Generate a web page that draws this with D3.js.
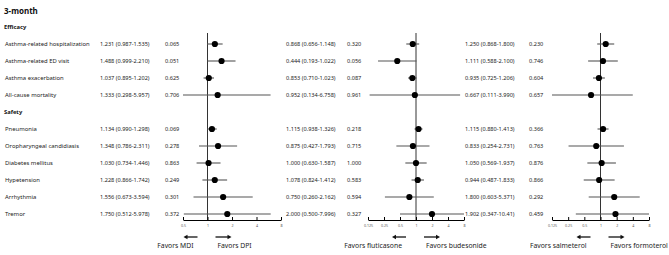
<!DOCTYPE html>
<html><head><meta charset="utf-8">
<script src="https://cdn.jsdelivr.net/npm/d3@7"></script>
<style>body{margin:0;background:#fff}svg{display:block;font-family:"Noto Sans",sans-serif}</style>
</head><body><svg id="c" width="669" height="255"></svg>
<script>
const title = "3-month";
const groups = ["Efficacy", "Safety"];
const outcomes = ["Asthma-related hospitalization","Asthma-related ED visit","Asthma exacerbation","All-cause mortality",
  "Pneumonia","Oropharyngeal candidiasis","Diabetes mellitus","Hypetension","Arrhythmia","Tremor"];
const outcomeGroup = ["Efficacy","Efficacy","Efficacy","Efficacy","Safety","Safety","Safety","Safety","Safety","Safety"];

// MDI vs DPI
const or1 = [1.231,1.488,1.037,1.333,1.134,1.348,1.030,1.228,1.556,1.750];
const lo1 = [0.987,0.999,0.895,0.298,0.990,0.786,0.734,0.866,0.673,0.512];
const hi1 = [1.535,2.210,1.202,5.957,1.298,2.311,1.446,1.742,3.594,5.978];
const ci1 = ["1.231 (0.987-1.535)","1.488 (0.999-2.210)","1.037 (0.895-1.202)","1.333 (0.298-5.957)","1.134 (0.990-1.298)","1.348 (0.786-2.311)","1.030 (0.734-1.446)","1.228 (0.866-1.742)","1.556 (0.673-3.594)","1.750 (0.512-5.978)"];
const p1 = ["0.065","0.051","0.625","0.706","0.069","0.278","0.863","0.249","0.301","0.372"];

// fluticasone vs budesonide
const or2 = [0.868,0.444,0.853,0.952,1.115,0.875,1.000,1.078,0.750,2.000];
const lo2 = [0.656,0.193,0.710,0.134,0.938,0.427,0.630,0.824,0.260,0.500];
const hi2 = [1.148,1.022,1.023,6.758,1.326,1.793,1.587,1.412,2.162,7.996];
const ci2 = ["0.868 (0.656-1.148)","0.444 (0.193-1.022)","0.853 (0.710-1.023)","0.952 (0.134-6.758)","1.115 (0.938-1.326)","0.875 (0.427-1.793)","1.000 (0.630-1.587)","1.078 (0.824-1.412)","0.750 (0.260-2.162)","2.000 (0.500-7.996)"];
const p2 = ["0.320","0.056","0.087","0.961","0.218","0.715","1.000","0.583","0.594","0.327"];

// salmeterol vs formoterol
const or3 = [1.250,1.111,0.935,0.667,1.115,0.833,1.050,0.944,1.800,1.902];
const lo3 = [0.868,0.588,0.725,0.111,0.880,0.254,0.569,0.487,0.603,0.347];
const hi3 = [1.800,2.100,1.206,3.990,1.413,2.731,1.937,1.833,5.371,10.41];
const ci3 = ["1.250 (0.868-1.800)","1.111 (0.588-2.100)","0.935 (0.725-1.206)","0.667 (0.111-3.990)","1.115 (0.880-1.413)","0.833 (0.254-2.731)","1.050 (0.569-1.937)","0.944 (0.487-1.833)","1.800 (0.603-5.371)","1.902 (0.347-10.41)"];
const p3 = ["0.230","0.746","0.604","0.657","0.366","0.763","0.876","0.866","0.292","0.459"];

const ticks1 = [0.5,1,2,4,8];
const ticks23 = [0.125,0.25,0.5,1,2,4,8];
const tickLabels1 = ["0.5","1","2","4","8"];
const tickLabels23 = ["0.125","0.25","0.5","1","2","4","8"];
const favorsLeft = ["Favors MDI","Favors fluticasone","Favors salmeterol"];
const favorsRight = ["Favors DPI","Favors budesonide","Favors formoterol"];

const panels = [
  {or:or1, lo:lo1, hi:hi1, ci:ci1, p:p1, ticks:ticks1, tl:tickLabels1, r:[183,281], ciX:100, pX:165},
  {or:or2, lo:lo2, hi:hi2, ci:ci2, p:p2, ticks:ticks23, tl:tickLabels23, r:[368,464], ciX:286, pX:347},
  {or:or3, lo:lo3, hi:hi3, ci:ci3, p:p3, ticks:ticks23, tl:tickLabels23, r:[552,649], ciX:465, pX:529}
];

const svg = d3.select("#c");
const rowKeys = [];
groups.forEach(g => { rowKeys.push("H:"+g); outcomes.forEach((o,i)=>{ if(outcomeGroup[i]===g) rowKeys.push(o); }); });
const y = d3.scalePoint().domain(rowKeys).range([27,214]);
const axisY = 220, topY = 33;

svg.append("text").attr("x",4).attr("y",14).attr("font-size",8).attr("font-weight","bold").attr("fill","#111").text(title);
groups.forEach(g => {
  svg.append("text").attr("x",4).attr("y",y("H:"+g)).attr("dy","0.35em").attr("font-size",5.8).attr("font-weight","bold").attr("fill","#111").text(g);
});
outcomes.forEach(o => {
  svg.append("text").attr("x",5).attr("y",y(o)).attr("dy","0.35em").attr("font-size",5.9).attr("fill","#222").text(o);
});

panels.forEach((P, k) => {
  const x = d3.scaleLog().base(2).domain([P.ticks[0], P.ticks[P.ticks.length-1]]).range(P.r);
  const xc = v => x(Math.max(P.ticks[0], Math.min(P.ticks[P.ticks.length-1], v)));
  const g = svg.append("g");
  outcomes.forEach((o,i) => {
    g.append("text").attr("x",P.ciX).attr("y",y(o)).attr("dy","0.35em").attr("font-size",5.6).attr("fill","#222").text(P.ci[i]);
    g.append("text").attr("x",P.pX).attr("y",y(o)).attr("dy","0.35em").attr("font-size",5.6).attr("fill","#222").text(P.p[i]);
  });
  g.append("line").attr("x1",x(1)).attr("x2",x(1)).attr("y1",topY).attr("y2",axisY).attr("stroke","#333").attr("stroke-width",1);
  outcomes.forEach((o,i) => {
    g.append("line").attr("x1",xc(P.lo[i])).attr("x2",xc(P.hi[i])).attr("y1",y(o)).attr("y2",y(o)).attr("stroke","#555").attr("stroke-width",1.1);
    g.append("circle").attr("cx",x(P.or[i])).attr("cy",y(o)).attr("r",3.1).attr("fill","#000");
  });
  const ax = d3.axisBottom(x).tickValues(P.ticks).tickFormat((d,i)=>P.tl[i]).tickSizeInner(-3).tickSizeOuter(0).tickPadding(4);
  const ag = g.append("g").attr("transform",`translate(0,${axisY})`).call(ax);
  ag.select(".domain").attr("stroke","#000").attr("stroke-width",1);
  ag.selectAll(".tick line").attr("stroke","#000");
  ag.selectAll(".tick text").attr("font-size",3.6).attr("fill","#555").attr("font-family","Noto Sans, sans-serif");
  const ref = x(1), ay = 237;
  const arrow = (x1,x2) => {
    const dir = Math.sign(x2-x1);
    g.append("line").attr("x1",x1).attr("x2",x2-dir*2).attr("y1",ay).attr("y2",ay).attr("stroke","#111").attr("stroke-width",1.3);
    g.append("path").attr("d",`M${x2},${ay} L${x2-dir*4},${ay-2.2} L${x2-dir*4},${ay+2.2} Z`).attr("fill","#111");
  };
  arrow(ref-10, ref-24);
  arrow(ref+8, ref+24);
  g.append("text").attr("x",ref-14).attr("y",246).attr("dy","0.35em").attr("text-anchor","end").attr("font-size",6.8).attr("fill","#222").text(favorsLeft[k]);
  g.append("text").attr("x",ref+10).attr("y",246).attr("dy","0.35em").attr("font-size",6.8).attr("fill","#222").text(favorsRight[k]);
});
</script></body></html>
